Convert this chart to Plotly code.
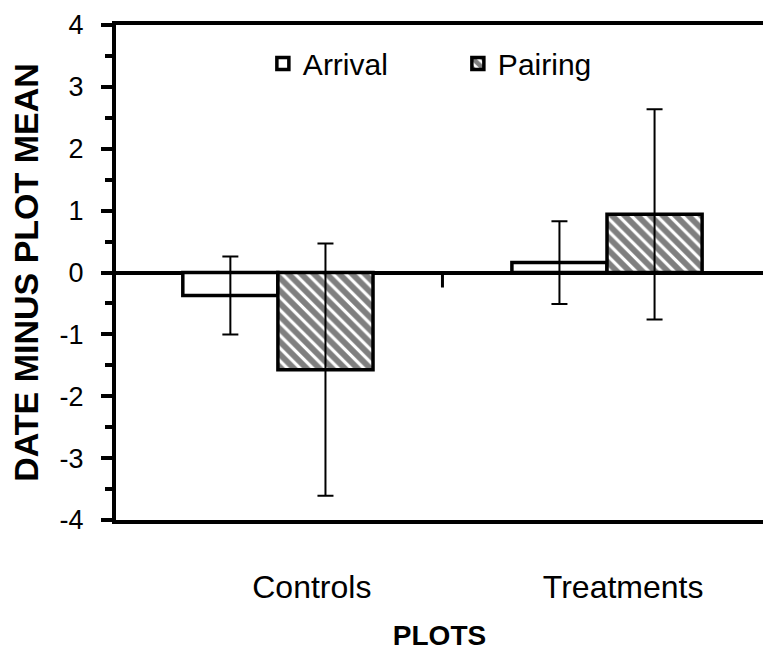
import plotly.graph_objects as go

# Deviation of each plot's date from the plot mean (days)
plots = ["Controls", "Treatments"]
arrival = [-0.37, 0.16]
arrival_err = [0.63, 0.67]
pairing = [-1.57, 0.94]
pairing_err = [2.04, 1.70]
y_ticks = [-4, -3, -2, -1, 0, 1, 2, 3, 4]
y_labels = ["-4", "-3", "-2", "-1", "0", "1", "2", "3", "4"]
# label anchor points along the category axis (labels sit a little right of centre)
x_label_pos = [0.103, 1.049]

FONT = "Liberation Sans, Arial, Helvetica, sans-serif"
INK = "black"

fig = go.Figure()
fig.add_trace(go.Bar(
    name="Arrival", x=plots, y=arrival,
    marker=dict(color="white", line=dict(color=INK, width=3.5)),
    error_y=dict(type="data", array=arrival_err, color=INK, thickness=2, width=8),
))
fig.add_trace(go.Bar(
    name="Pairing", x=plots, y=pairing,
    marker=dict(color="white", line=dict(color=INK, width=3.5),
                pattern=dict(shape="\\", fgcolor=INK, bgcolor="white",
                             size=9, solidity=0.65, fillmode="overlay")),
    error_y=dict(type="data", array=pairing_err, color=INK, thickness=2, width=8),
))

# small separator tick hanging below the zero line between the two groups
fig.add_shape(type="line", xref="x", yref="y", x0=0.5, x1=0.5,
              ysizemode="pixel", yanchor=0, y0=0, y1=-15,
              line=dict(color=INK, width=3))

fig.update_layout(
    width=763, height=658,
    margin=dict(l=116, r=0, t=25, b=138),
    paper_bgcolor="white", plot_bgcolor="white",
    font=dict(family=FONT, color=INK),
    barmode="group", bargap=0.422, bargroupgap=0,
    showlegend=True,
    legend=dict(orientation="h", xref="paper", yref="paper",
                x=0.227, y=0.975, xanchor="left", yanchor="top",
                font=dict(size=30, family=FONT), entrywidth=150,
                entrywidthmode="pixels", bgcolor="rgba(0,0,0,0)"),
)

fig.update_xaxes(
    range=[-0.492, 1.474], showline=True, linewidth=4, linecolor=INK, mirror=True,
    tickmode="array", tickvals=x_label_pos, ticktext=plots,
    ticks="", showgrid=False, zeroline=False, automargin=False,
    tickfont=dict(size=32), ticklabelstandoff=36,
    title=dict(text="<b>PLOTS</b>", font=dict(size=28), standoff=22),
)
fig.update_yaxes(
    range=[-4, 4], tickmode="array", tickvals=y_ticks, ticktext=y_labels,
    showline=True, linewidth=4, linecolor=INK,
    ticks="outside", ticklen=11, tickwidth=4, tickcolor=INK,
    minor=dict(dtick=0.5, ticks="outside", ticklen=7, tickwidth=4, tickcolor=INK),
    showgrid=False, zeroline=True, zerolinewidth=4, zerolinecolor=INK,
    automargin=False,
    tickfont=dict(size=27), ticklabelstandoff=12,
    title=dict(text="<b>DATE MINUS PLOT MEAN</b>", font=dict(size=34), standoff=12),
)

fig.write_html("out.html")
